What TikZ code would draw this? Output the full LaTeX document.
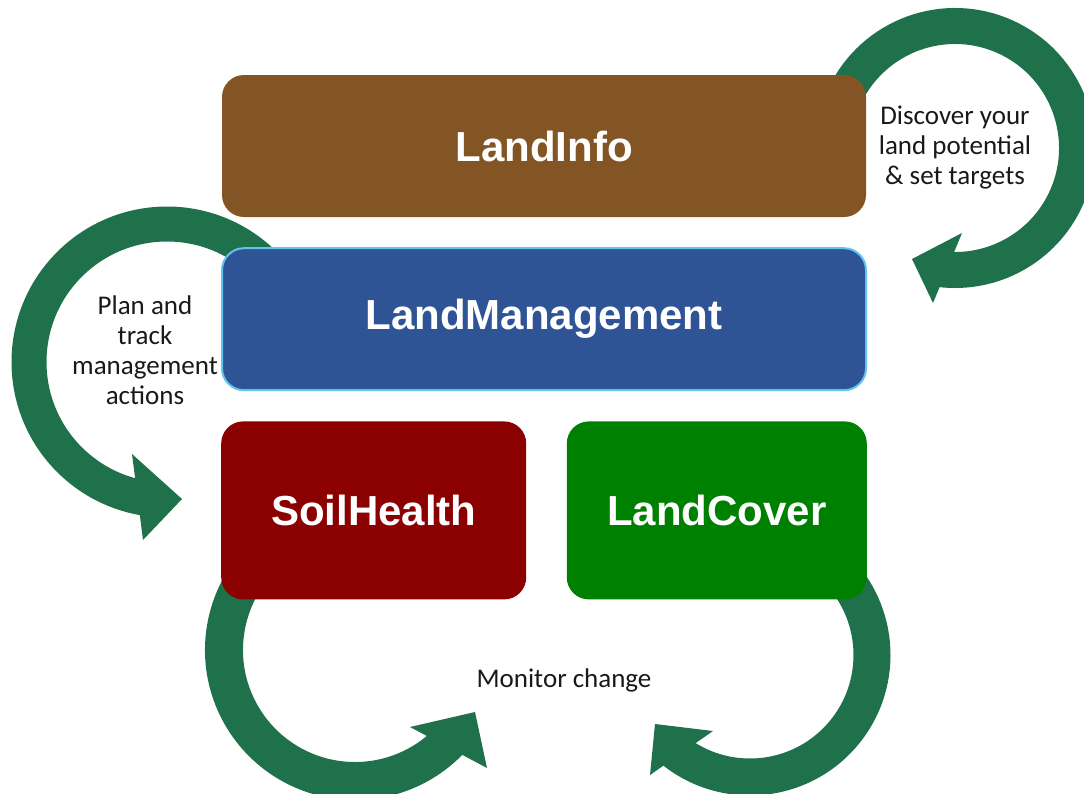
\documentclass[tikz,border=0pt]{standalone}
\usepackage{fontspec}
\setmainfont{Carlito}
\newfontfamily\boxfont{Liberation Sans}
\usepackage{xcolor}
\usepackage{tikz}
\usetikzlibrary{positioning}

\definecolor{infobrown}{RGB}{131,84,36}
\definecolor{mgmtblue}{RGB}{46,84,150}
\definecolor{mgmtedge}{RGB}{98,195,240}
\definecolor{soilred}{RGB}{139,0,0}
\definecolor{covergreen}{RGB}{0,128,0}
\definecolor{arrowgreen}{RGB}{30,113,75}

\begin{document}
\begin{tikzpicture}[
          x=1pt,y=-1pt,
          box/.style={rounded corners=22pt,inner sep=0pt,minimum width=644pt,
                      minimum height=142pt,text=white,
                      font=\boxfont\bfseries\fontsize{42}{42}\selectfont},
          note/.style={align=center,text=black!90,font=\fontsize{27}{30}\selectfont},
          band/.style={draw=arrowgreen,line width=36pt},
          headfill/.style={fill=arrowgreen}
          ]
          \useasboundingbox (0,0) rectangle (1084,793);
          \clip (0,0) rectangle (1084,793);

          % circular arrows, drawn first so the boxes cover their tails
          \coordinate (c1) at (955,148);
          \coordinate (c2) at (167,362);
          \coordinate (c3) at (355,650);
          \coordinate (c4) at (750,655);

          \draw[band] (c1) ++(-155:122) arc[start angle=-155,end angle=97,radius=122];
          \fill[headfill] (962,233) -- (912,259) -- (933,303) -- cycle;

          \draw[band,line width=35pt] (c2) ++(-45:138) arc[start angle=-45,end angle=-262,radius=138];
          \fill[headfill] (132,454) -- (182,499) -- (143,540) -- cycle;

          \draw[band,line width=38pt] (c3) ++(-120:131) arc[start angle=-120,end angle=-317,radius=131];
          \fill[headfill] (410,727) -- (475,712) -- (487,768) -- cycle;

          \draw[band,line width=37pt] (c4) ++(-50:122) arc[start angle=-50,end angle=130,radius=122];
          \fill[headfill] (713,731) -- (655,724) -- (650,775) -- cycle;

          % the four tools
          \node[box,fill=infobrown] (info) at (544,146) {LandInfo};
          \node[box,fill=mgmtblue,draw=mgmtedge,line width=2pt,below=30pt of info] (mgmt) {LandManagement};
          \node[box,fill=soilred,minimum width=305pt,minimum height=178pt,
                below right=30pt and 0pt of mgmt.south west] (soil) {SoilHealth};
          \node[box,fill=covergreen,minimum width=300pt,minimum height=178pt,
                below left=30pt and 0pt of mgmt.south east] (cover) {LandCover};

          % labels of the arrows
          \node[note] (discover) at (955,148) {Discover your\\land potential\\\& set targets};
          \node[note] (plan) at (145,350) {Plan and\\track\\management\\actions};
          \node[note] (monitor) at (564,680) {Monitor change};
        \end{tikzpicture}
\end{document}
